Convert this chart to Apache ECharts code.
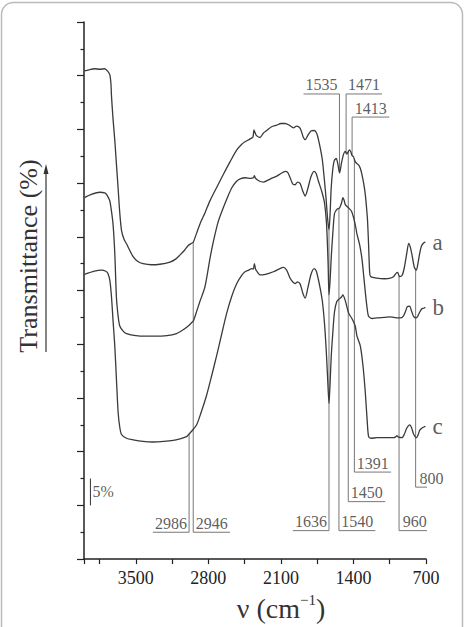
<!DOCTYPE html>
<html>
<head>
<meta charset="utf-8">
<title>IR spectra a, b, c</title>
<script src="https://cdn.jsdelivr.net/npm/echarts@6/dist/echarts.min.js"></script>
<style>
  html, body { margin: 0; padding: 0; background: #fff; }
  #main { width: 465px; height: 627px; }
</style>
</head>
<body>
<div id="main"></div>
<script>
// spectra: [wavenumber cm-1, transmittance (offset, %)]
var curveA = [[3995,90.9],[3950,91.1],[3900,91.3],[3848,91.2],[3800,91.3],[3770,90.8],[3751,90.2],[3740,88.5],[3735,86.3],[3720,82.0],[3703,78.0],[3687,73.5],[3671,69.1],[3655,64.5],[3638,61.2],[3615,59.6],[3590,58.7],[3526,56.3],[3480,55.4],[3430,55.0],[3350,54.8],[3268,54.9],[3171,55.3],[3120,55.8],[3075,56.6],[3030,57.5],[2994,58.4],[2962,58.8],[2946,59.0],[2915,60.6],[2881,62.4],[2830,64.6],[2785,66.7],[2720,69.2],[2656,71.6],[2590,74.0],[2526,76.2],[2480,77.2],[2446,77.7],[2400,78.2],[2370,78.6],[2360,79.9],[2350,79.4],[2333,78.8],[2301,78.5],[2270,79.3],[2236,79.8],[2190,80.5],[2140,80.8],[2100,81.1],[2059,81.1],[2020,80.8],[1979,80.3],[1950,80.6],[1914,80.2],[1885,78.6],[1866,78.1],[1840,78.9],[1810,79.7],[1779,79.8],[1755,79.3],[1740,78.3],[1720,76.5],[1700,74.3],[1680,70.5],[1665,67.3],[1650,63.5],[1636,61.2],[1625,64.5],[1615,69.0],[1600,72.5],[1585,74.2],[1566,74.6],[1550,73.5],[1534,71.9],[1515,73.8],[1495,75.4],[1479,75.9],[1465,75.4],[1457,75.6],[1438,76.2],[1425,75.8],[1415,75.2],[1400,74.9],[1383,74.0],[1365,73.6],[1351,73.4],[1335,72.8],[1318,71.6],[1300,69.8],[1286,67.9],[1274,65.5],[1264,63.0],[1254,58.5],[1244,53.5],[1235,52.6],[1173,52.3],[1100,52.2],[1044,52.3],[1012,52.6],[985,53.3],[974,53.4],[955,52.6],[931,52.8],[910,54.2],[885,57.0],[867,58.8],[850,58.0],[831,56.2],[812,54.3],[793,53.8],[778,55.0],[765,56.5],[750,57.9],[738,58.5],[720,58.9],[706,59.0]];

var curveB = [[3995,67.3],[3930,67.9],[3848,68.3],[3800,68.2],[3783,67.9],[3765,67.3],[3751,66.7],[3735,64.8],[3720,62.4],[3703,57.0],[3687,48.7],[3671,45.3],[3655,43.4],[3620,42.4],[3590,42.0],[3500,41.6],[3400,41.5],[3333,41.5],[3200,41.6],[3107,42.0],[3043,42.7],[2994,43.4],[2962,44.0],[2946,44.3],[2915,46.0],[2881,48.0],[2833,50.7],[2785,55.9],[2753,59.0],[2707,62.7],[2656,65.4],[2610,67.6],[2575,69.1],[2530,70.3],[2494,70.8],[2440,71.0],[2397,70.9],[2365,71.0],[2356,71.4],[2345,70.9],[2310,70.4],[2269,70.2],[2200,70.8],[2140,71.3],[2100,71.8],[2059,72.2],[2035,72.0],[2011,71.0],[1985,69.8],[1963,69.7],[1940,70.2],[1914,69.9],[1890,68.6],[1866,67.6],[1840,69.0],[1810,71.2],[1779,72.2],[1760,71.8],[1740,70.5],[1705,68.4],[1680,66.4],[1660,62.5],[1645,55.3],[1636,49.2],[1625,52.0],[1614,56.3],[1598,61.0],[1583,64.3],[1560,65.1],[1534,65.4],[1515,66.3],[1502,67.3],[1490,66.8],[1479,66.0],[1447,65.4],[1420,64.8],[1399,63.6],[1380,62.0],[1366,60.5],[1340,58.5],[1318,55.9],[1300,52.5],[1286,49.8],[1270,47.0],[1254,45.2],[1220,44.8],[1173,44.9],[1100,45.0],[1044,45.1],[974,44.9],[948,44.9],[920,45.2],[900,46.0],[880,47.0],[857,47.1],[840,46.2],[820,45.2],[793,44.9],[775,45.4],[760,46.0],[740,46.6],[722,46.7],[706,46.9]];

var curveC = [[3995,53.0],[3900,53.6],[3830,53.8],[3790,53.6],[3770,53.2],[3750,51.8],[3735,48.9],[3720,44.5],[3703,39.7],[3687,33.5],[3671,27.4],[3655,24.6],[3638,23.2],[3590,22.5],[3526,22.2],[3430,21.9],[3333,21.8],[3230,21.9],[3139,22.1],[3075,22.4],[3010,22.8],[2986,23.3],[2962,23.8],[2913,25.0],[2870,27.3],[2817,30.5],[2770,34.0],[2720,37.9],[2670,42.0],[2623,45.8],[2575,48.9],[2526,51.3],[2480,52.8],[2446,53.5],[2410,53.8],[2381,54.1],[2366,54.0],[2356,55.0],[2345,54.0],[2333,53.6],[2301,52.9],[2250,53.0],[2173,53.5],[2120,54.0],[2076,54.3],[2045,53.8],[2011,52.3],[1985,51.6],[1963,51.3],[1940,51.6],[1914,51.2],[1890,49.6],[1866,48.6],[1840,50.5],[1810,53.0],[1779,54.1],[1760,53.7],[1740,52.2],[1720,50.3],[1700,48.0],[1680,44.0],[1663,39.0],[1650,34.0],[1636,29.0],[1625,33.0],[1614,37.9],[1598,42.5],[1583,46.0],[1560,48.0],[1534,48.5],[1515,48.8],[1502,49.2],[1485,48.5],[1470,47.5],[1447,45.8],[1415,44.8],[1383,43.4],[1366,41.5],[1334,39.7],[1308,36.0],[1286,31.1],[1269,26.2],[1254,22.8],[1230,22.5],[1173,22.6],[1100,22.6],[1012,22.6],[990,22.8],[980,23.0],[965,22.7],[931,22.6],[910,23.2],[885,24.4],[857,25.0],[840,24.5],[820,23.3],[793,22.6],[775,23.2],[760,24.0],[738,24.4],[720,24.6],[706,24.7]];

var curveNames = ['a', 'b', 'c'];

// assigned bands and which spectrum each marker line touches
var peakLabels = ['2986', '2946', '1636', '1540', '960', '800', '1450', '1391', '1535', '1471', '1413'];
var peakCurve  = ['c', 'a', 'a', 'b', 'a', 'a', 'a', 'a', 'a', 'a', 'a'];

var xTickLabels = [3500, 2800, 2100, 1400, 700];

// where each marker's label sits: [level on y, end of the underline in cm-1]
var markerLayout = {
  '2986': [5.0, 3336], '2946': [5.0, 2591], '1636': [5.3, 1985], '1540': [5.3, 1189],
  '960': [5.3, 657], '800': [13.4, 496], '1450': [10.7, 1093], '1391': [16.2, 1037],
  '1535': [86.6, 1882], '1471': [86.6, 1124], '1413': [82.3, 1054]
};

var serif = 'Liberation Serif';
var ink = '#333';

function valueAt(curve, wn) {
  for (var i = 0; i < curve.length - 1; i++) {
    var p = curve[i], q = curve[i + 1];
    if (wn <= p[0] && wn >= q[0]) {
      return p[1] + (q[1] - p[1]) * (p[0] - wn) / (p[0] - q[0]);
    }
  }
  return curve[curve.length - 1][1];
}

var curves = { a: curveA, b: curveB, c: curveC };

var series = [];

// marker lines
var labelPoints = [];
peakLabels.forEach(function (lab, i) {
  var wn = Number(lab);
  var lay = markerLayout[lab];
  var top = valueAt(curves[peakCurve[i]], wn);
  series.push({
    type: 'line',
    data: [[wn, top], [wn, lay[0]], [lay[1], lay[0]]],
    symbol: 'none',
    clip: false,
    silent: true,
    lineStyle: { color: '#777', width: 1 },
    z: 1
  });
  labelPoints.push({ name: lab, value: [(wn + lay[1]) / 2, lay[0]] });
});

series.push({
  type: 'scatter',
  data: labelPoints,
  symbolSize: 0,
  clip: false,
  silent: true,
  label: {
    show: true, position: 'top', distance: 1, formatter: '{b}',
    fontFamily: serif, fontSize: 16, color: ink
  }
});

// 5% scale bar
series.push({
  type: 'line',
  data: [[3938, 10], [3938, 15]],
  symbol: 'none',
  silent: true,
  lineStyle: { color: ink, width: 1 }
});
series.push({
  type: 'scatter',
  data: [{ name: '5%', value: [3938, 12.5] }],
  symbolSize: 0,
  silent: true,
  label: { show: true, position: 'right', distance: 2, formatter: '{b}', fontFamily: serif, fontSize: 16, color: ink }
});

// spectra
[curveA, curveB, curveC].forEach(function (c, i) {
  series.push({
    type: 'line',
    name: curveNames[i],
    data: c,
    symbol: 'none',
    smooth: 0.25,
    clip: false,
    lineStyle: { color: '#3a3a3a', width: 1.3 },
    z: 3
  });
});

// curve names next to the last point of each spectrum
series.push({
  type: 'scatter',
  data: [curveA, curveB, curveC].map(function (c, i) {
    return { name: curveNames[i], value: c[c.length - 1] };
  }),
  symbolSize: 0,
  clip: false,
  silent: true,
  label: {
    show: true, position: 'right', distance: 7, formatter: '{b}',
    fontFamily: serif, fontSize: 23, color: ink
  }
});

var chart = echarts.init(document.getElementById('main'), null, { renderer: 'svg' });

chart.setOption({
  animation: false,
  backgroundColor: '#fff',
  grid: { left: 84, right: 39, top: 22, bottom: 61 },
  xAxis: {
    type: 'value',
    inverse: true,
    min: 700,
    max: 4000,
    interval: 350,
    splitLine: { show: false },
    axisLine: { lineStyle: { color: '#222', width: 1.5 } },
    axisTick: { length: 5, lineStyle: { color: '#222', width: 1.2 } },
    axisLabel: {
      margin: 10, fontFamily: serif, fontSize: 18, color: '#222',
      formatter: function (v) { return xTickLabels.indexOf(v) >= 0 ? String(v) : ''; }
    },
    name: '{t|ν (cm}{s|−1}{t|)}',
    nameLocation: 'middle',
    nameGap: 24,
    nameTextStyle: {
      padding: [0, 0, 0, 52],
      rich: {
        t: { fontFamily: serif, fontSize: 28, color: ink, lineHeight: 32 },
        s: { fontFamily: serif, fontSize: 15, color: ink, verticalAlign: 'top', lineHeight: 32 }
      }
    }
  },
  yAxis: {
    type: 'value',
    min: 0,
    max: 100,
    interval: 10,
    splitLine: { show: false },
    axisLabel: { show: false },
    axisLine: { show: true, lineStyle: { color: '#222', width: 1.5 } },
    axisTick: { show: true, length: 7, lineStyle: { color: '#222', width: 1.2 } },
    minorTick: { show: true, splitNumber: 2, length: 3.5, lineStyle: { color: '#222', width: 1.2 } },
    minorSplitLine: { show: false }
  },
  graphic: [
    {
      type: 'rect', silent: true, z: -10,
      shape: { x: 1.5, y: 2.5, width: 461, height: 660, r: 12 },
      style: { fill: 'none', stroke: '#bbb', lineWidth: 1.5 }
    },
    {
      type: 'text', x: 28, y: 256, rotation: Math.PI / 2,
      style: {
        text: 'Transmittance (%)', fontFamily: serif, fontSize: 26, fill: ink,
        align: 'center', verticalAlign: 'middle'
      }
    },
    {
      type: 'line', silent: true,
      shape: { x1: 46, y1: 352, x2: 46, y2: 172 },
      style: { stroke: ink, lineWidth: 1.2 }
    },
    {
      type: 'polygon', silent: true,
      shape: { points: [[46, 164], [43.5, 174], [48.5, 174]] },
      style: { fill: ink }
    }
  ],
  series: series
});
</script>
</body>
</html>
